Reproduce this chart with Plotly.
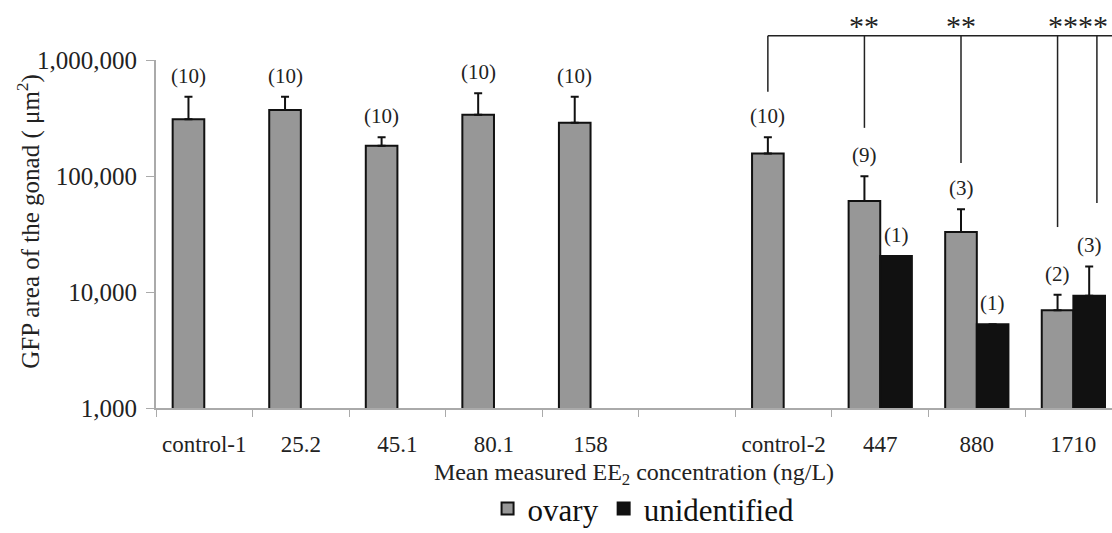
import math
import plotly.graph_objects as go

categories = ["control-1", "25.2", "45.1", "80.1", "158", " ", "control-2", "447", "880", "1710"]
ovary = [308000, 371000, 182000, 338000, 288000, None, 156000, 60900, 32900, 6950]
ovary_err_top = [483000, 483000, 216000, 516000, 483000, None, 216000, 99400, 51600, 9480]
unident = [None, None, None, None, None, None, None, 20400, 5260, 9290]
unident_err_top = [None, None, None, None, None, None, None, None, None, 16600]
ovary_n = ["(10)", "(10)", "(10)", "(10)", "(10)", None, "(10)", "(9)", "(3)", "(2)"]
unident_n = [None, None, None, None, None, None, None, "(1)", "(1)", "(3)"]

FONT = "Liberation Serif, serif"
W, H = 1112, 533
ML, MR, MT, MB = 156, 0, 60, 125
BARGAP = 0.345
HALF = (1 - BARGAP) / 4  # offset of each bar centre from category centre


def plus_err(vals, tops):
    return [(t - v) if (t is not None and v is not None) else 0 for v, t in zip(vals, tops)]


fig = go.Figure()
fig.add_trace(go.Bar(
    name="ovary", x=categories, y=ovary,
    marker=dict(color="#979797", line=dict(color="#111111", width=2)),
    error_y=dict(type="data", symmetric=False, array=plus_err(ovary, ovary_err_top),
                 arrayminus=[0] * len(ovary), color="#111111", thickness=2, width=4),
))
fig.add_trace(go.Bar(
    name="unidentified", x=categories, y=unident,
    marker=dict(color="#111111", line=dict(color="#111111", width=2)),
    error_y=dict(type="data", symmetric=False, array=plus_err(unident, unident_err_top),
                 arrayminus=[0] * len(unident), color="#111111", thickness=2, width=4),
))

annotations = []
for i, (n, v, t) in enumerate(zip(ovary_n, ovary, ovary_err_top)):
    if n is None:
        continue
    top = t if t is not None else v
    annotations.append(dict(x=i - HALF, y=math.log10(top), xref="x", yref="y", text=n,
                            showarrow=False, yanchor="bottom", yshift=7,
                            font=dict(family=FONT, size=21, color="#222")))
for i, (n, v, t) in enumerate(zip(unident_n, unident, unident_err_top)):
    if n is None:
        continue
    top = t if t is not None else v
    annotations.append(dict(x=i + HALF, y=math.log10(top), xref="x", yref="y", text=n,
                            showarrow=False, yanchor="bottom", yshift=7,
                            font=dict(family=FONT, size=21, color="#222")))

# y-axis title
annotations.append(dict(x=-(ML - 29) / (W - ML - MR), y=0.535, xref="paper", yref="paper",
                        xanchor="center", yanchor="middle",
                        text="GFP area of the gonad ( μm<sup>2</sup>)", textangle=-90,
                        showarrow=False, font=dict(family=FONT, size=25, color="#222")))

# significance bracket
ctrl = categories.index("control-2")
bracket_y = 1.070
drops = [(ctrl - HALF, 0.909), (ctrl + 1 - HALF, 0.805), (ctrl + 2 - HALF, 0.704),
         (ctrl + 3 - HALF, 0.520), (ctrl + 3 + HALF + 0.08, 0.589)]
shapes = [dict(type="line", xref="x", yref="paper", x0=ctrl - HALF, x1=9.8,
               y0=bracket_y, y1=bracket_y, line=dict(color="#222", width=1.5))]
for x, y in drops:
    shapes.append(dict(type="line", xref="x", yref="paper", x0=x, x1=x, y0=bracket_y, y1=y,
                       line=dict(color="#222", width=1.5)))
stars = [(ctrl + 1 - HALF, "**"), (ctrl + 2 - HALF, "**"), (ctrl + 3 + 0.05, "****")]
for x, s in stars:
    annotations.append(dict(x=x, y=bracket_y, xref="x", yref="paper", text=s, showarrow=False,
                            yanchor="bottom", yshift=-8,
                            font=dict(family=FONT, size=30, color="#222")))

fig.update_layout(
    width=W, height=H,
    margin=dict(l=ML, r=MR, t=MT, b=MB, autoexpand=False),
    paper_bgcolor="white", plot_bgcolor="white",
    barmode="group", bargap=BARGAP, bargroupgap=0,
    font=dict(family=FONT, color="#222"),
    showlegend=True,
    legend=dict(orientation="h", x=0.51, xanchor="center", y=-0.29, yanchor="middle",
                font=dict(family=FONT, size=31, color="#111"), itemwidth=30,
                tracegroupgap=0),
    annotations=annotations,
    shapes=shapes,
    xaxis=dict(type="category", range=[-0.5, 9.4], tickson="boundaries",
               ticks="outside", ticklen=7, tickcolor="#aaa",
               showline=True, linecolor="#aaa", linewidth=2,
               showgrid=False, zeroline=False, tickangle=0, automargin=False,
               tickfont=dict(family=FONT, size=23, color="#222"),
               ticklabelstandoff=14,
               title=dict(text="Mean measured EE<sub>2</sub> concentration (ng/L)",
                          font=dict(family=FONT, size=24, color="#222"), standoff=8)),
    yaxis=dict(type="log", range=[3, 6],
               tickvals=[1000, 10000, 100000, 1000000],
               ticktext=["1,000", "10,000", "100,000", "1,000,000"],
               ticks="outside", ticklen=8, tickcolor="#aaa",
               showline=True, linecolor="#aaa", linewidth=2,
               showgrid=False, zeroline=False, ticklabelstandoff=4, automargin=False,
               tickfont=dict(family=FONT, size=25, color="#222")),
)

fig.write_html("out.html")
